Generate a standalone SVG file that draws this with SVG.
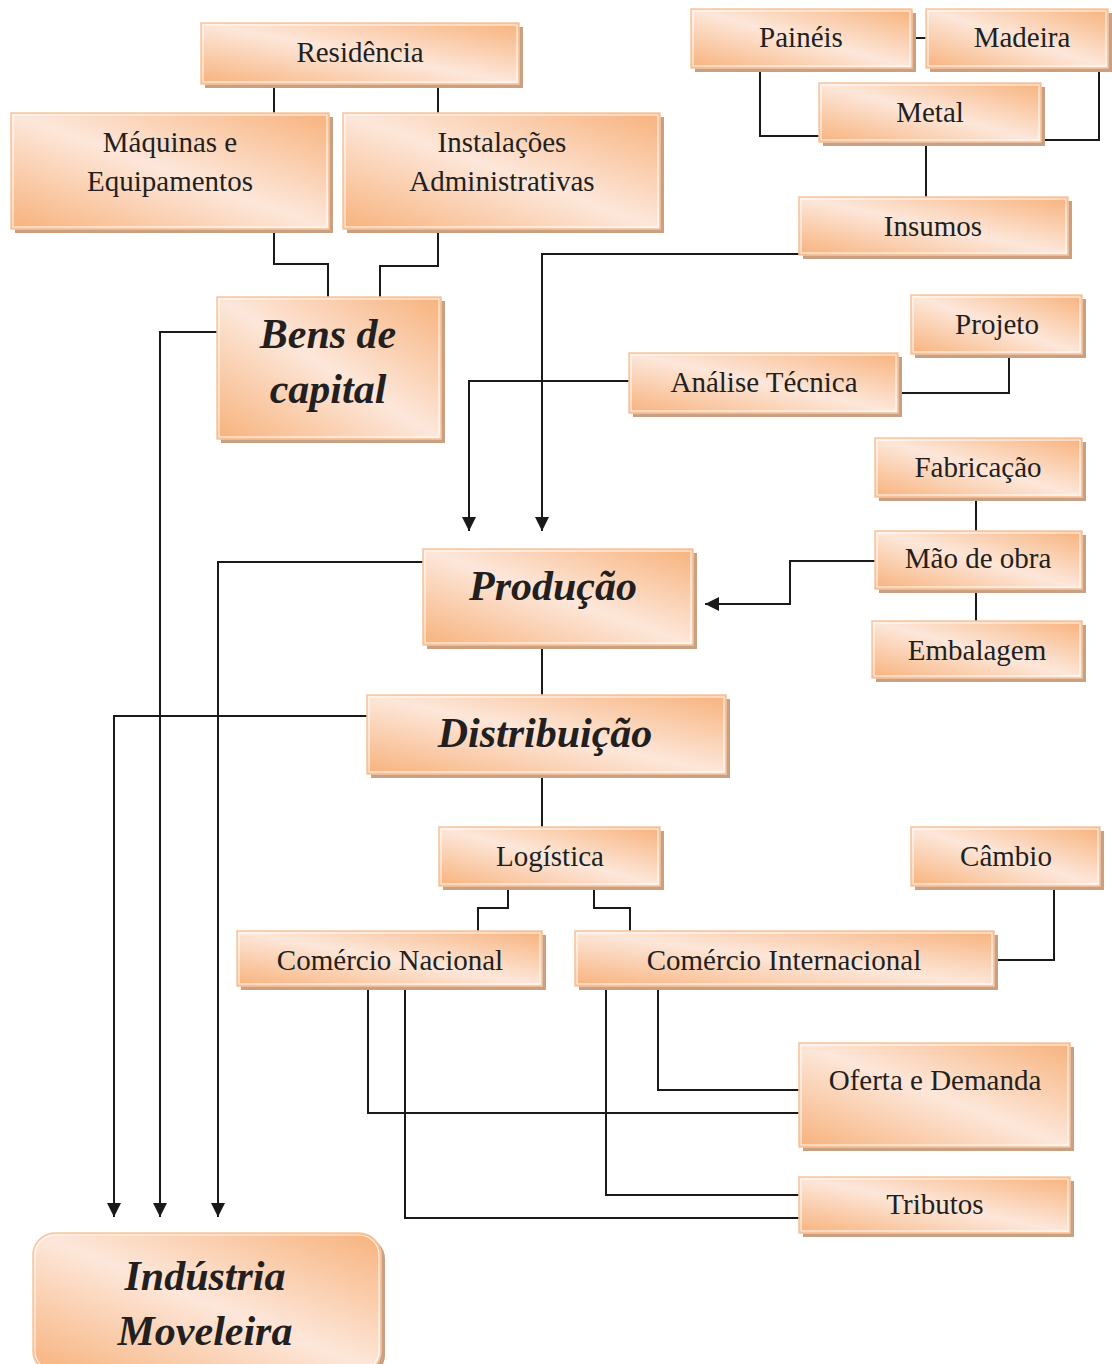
<svg xmlns="http://www.w3.org/2000/svg" width="1112" height="1364" viewBox="0 0 1112 1364">
<defs>
<linearGradient id="g" x1="0" y1="1" x2="1" y2="0">
<stop offset="0" stop-color="#f7b27c"/>
<stop offset="0.5" stop-color="#fde7da"/>
<stop offset="1" stop-color="#f7b27c"/>
</linearGradient>
<marker id="arr" markerUnits="userSpaceOnUse" markerWidth="16" markerHeight="16" refX="14" refY="7" orient="auto">
<path d="M0,0 L14,7 L0,14 z" fill="#1a1a1a"/>
</marker>
<style>
.sh{fill:#c9a082}
.bx{fill:url(#g);stroke:#f9c49c;stroke-width:1.5}
.in{fill:none;stroke:#ffffff;stroke-width:1.2;opacity:0.8}
.t{font-family:"Liberation Serif","Times New Roman",serif;font-size:29px;fill:#231f20;text-anchor:middle}
.b{font-family:"Liberation Serif","Times New Roman",serif;font-size:42px;font-weight:bold;font-style:italic;fill:#231f20;text-anchor:middle}
.c{fill:none;stroke:#1a1a1a;stroke-width:2}
.a{marker-end:url(#arr)}
</style>
</defs>
<rect width="1112" height="1364" fill="#ffffff"/>

<g id="connectors">
<path class="c" d="M274,85 V113"/>
<path class="c" d="M438,85 V113"/>
<path class="c" d="M274,231 V264 H328 V297"/>
<path class="c" d="M438,231 V266 H380 V297"/>
<path class="c a" d="M218,332 H160 V1217"/>
<path class="c" d="M912,38 H926"/>
<path class="c" d="M760,68 V136 H820"/>
<path class="c" d="M1099,68 V140 H1040"/>
<path class="c" d="M926,142 V198"/>
<path class="c a" d="M800,247 V254 H542 V531"/>
<path class="c" d="M1009,355 V393 H899"/>
<path class="c a" d="M630,381 H469 V531"/>
<path class="c" d="M976,498 V531"/>
<path class="c" d="M976,590 V621"/>
<path class="c a" d="M876,561 H790 V604 H705"/>
<path class="c a" d="M424,562 H218 V1217"/>
<path class="c" d="M542,646 V696"/>
<path class="c a" d="M368,716 H114 V1217"/>
<path class="c" d="M542,776 V828"/>
<path class="c" d="M508,887 V908 H478 V932"/>
<path class="c" d="M594,887 V908 H630 V932"/>
<path class="c" d="M1054,888 V960 H995"/>
<path class="c" d="M658,986 V1090 H800"/>
<path class="c" d="M606,986 V1195 H800"/>
<path class="c" d="M368,986 V1113 H800"/>
<path class="c" d="M405,986 V1218 H800"/>
</g>

<g id="residencia">
<rect class="sh" x="205" y="27" width="318" height="61"/>
<rect class="bx" x="201" y="23" width="318" height="61"/>
<rect class="in" x="203" y="25" width="314" height="57"/>
<text class="t" x="360" y="62">Residência</text>
</g>

<g id="maquinas">
<rect class="sh" x="15" y="117" width="318" height="116"/>
<rect class="bx" x="11" y="113" width="318" height="116"/>
<rect class="in" x="13" y="115" width="314" height="112"/>
<text class="t" x="170" y="152">Máquinas e</text>
<text class="t" x="170" y="191">Equipamentos</text>
</g>

<g id="instalacoes">
<rect class="sh" x="347" y="117" width="317" height="116"/>
<rect class="bx" x="343" y="113" width="317" height="116"/>
<rect class="in" x="345" y="115" width="313" height="112"/>
<text class="t" x="502" y="152">Instalações</text>
<text class="t" x="502" y="191">Administrativas</text>
</g>

<g id="bens">
<rect class="sh" x="221" y="301" width="224" height="142"/>
<rect class="bx" x="217" y="297" width="224" height="142"/>
<rect class="in" x="219" y="299" width="220" height="138"/>
<text class="b" x="328" y="348">Bens de</text>
<text class="b" x="328" y="403">capital</text>
</g>

<g id="paineis">
<rect class="sh" x="695" y="13" width="221" height="59"/>
<rect class="bx" x="691" y="9" width="221" height="59"/>
<rect class="in" x="693" y="11" width="217" height="55"/>
<text class="t" x="801" y="47">Painéis</text>
</g>

<g id="madeira">
<rect class="sh" x="930" y="13" width="182" height="59"/>
<rect class="bx" x="926" y="9" width="182" height="59"/>
<rect class="in" x="928" y="11" width="178" height="55"/>
<text class="t" x="1022" y="47">Madeira</text>
</g>

<g id="metal">
<rect class="sh" x="823" y="87" width="222" height="59"/>
<rect class="bx" x="819" y="83" width="222" height="59"/>
<rect class="in" x="821" y="85" width="218" height="55"/>
<text class="t" x="930" y="122">Metal</text>
</g>

<g id="insumos">
<rect class="sh" x="803" y="201" width="269" height="58"/>
<rect class="bx" x="799" y="197" width="269" height="58"/>
<rect class="in" x="801" y="199" width="265" height="54"/>
<text class="t" x="933" y="236">Insumos</text>
</g>

<g id="projeto">
<rect class="sh" x="915" y="299" width="171" height="59"/>
<rect class="bx" x="911" y="295" width="171" height="59"/>
<rect class="in" x="913" y="297" width="167" height="55"/>
<text class="t" x="997" y="334">Projeto</text>
</g>

<g id="analise">
<rect class="sh" x="633" y="357" width="269" height="60"/>
<rect class="bx" x="629" y="353" width="269" height="60"/>
<rect class="in" x="631" y="355" width="265" height="56"/>
<text class="t" x="764" y="392">Análise Técnica</text>
</g>

<g id="fabricacao">
<rect class="sh" x="879" y="442" width="207" height="59"/>
<rect class="bx" x="875" y="438" width="207" height="59"/>
<rect class="in" x="877" y="440" width="203" height="55"/>
<text class="t" x="978" y="477">Fabricação</text>
</g>

<g id="maodeobra">
<rect class="sh" x="879" y="535" width="207" height="58"/>
<rect class="bx" x="875" y="531" width="207" height="58"/>
<rect class="in" x="877" y="533" width="203" height="54"/>
<text class="t" x="978" y="568">Mão de obra</text>
</g>

<g id="embalagem">
<rect class="sh" x="876" y="625" width="210" height="57"/>
<rect class="bx" x="872" y="621" width="210" height="57"/>
<rect class="in" x="874" y="623" width="206" height="53"/>
<text class="t" x="977" y="660">Embalagem</text>
</g>

<g id="producao">
<rect class="sh" x="427" y="553" width="270" height="96"/>
<rect class="bx" x="423" y="549" width="270" height="96"/>
<rect class="in" x="425" y="551" width="266" height="92"/>
<text class="b" x="553" y="600">Produção</text>
</g>

<g id="distribuicao">
<rect class="sh" x="371" y="699" width="359" height="79"/>
<rect class="bx" x="367" y="695" width="359" height="79"/>
<rect class="in" x="369" y="697" width="355" height="75"/>
<text class="b" x="545" y="747">Distribuição</text>
</g>

<g id="logistica">
<rect class="sh" x="443" y="831" width="221" height="59"/>
<rect class="bx" x="439" y="827" width="221" height="59"/>
<rect class="in" x="441" y="829" width="217" height="55"/>
<text class="t" x="550" y="866">Logística</text>
</g>

<g id="cambio">
<rect class="sh" x="915" y="831" width="189" height="59"/>
<rect class="bx" x="911" y="827" width="189" height="59"/>
<rect class="in" x="913" y="829" width="185" height="55"/>
<text class="t" x="1006" y="866">Câmbio</text>
</g>

<g id="comercio-nacional">
<rect class="sh" x="241" y="935" width="305" height="55"/>
<rect class="bx" x="237" y="931" width="305" height="55"/>
<rect class="in" x="239" y="933" width="301" height="51"/>
<text class="t" x="390" y="970">Comércio Nacional</text>
</g>

<g id="comercio-internacional">
<rect class="sh" x="579" y="935" width="419" height="55"/>
<rect class="bx" x="575" y="931" width="419" height="55"/>
<rect class="in" x="577" y="933" width="415" height="51"/>
<text class="t" x="784" y="970">Comércio Internacional</text>
</g>

<g id="oferta">
<rect class="sh" x="803" y="1047" width="271" height="104"/>
<rect class="bx" x="799" y="1043" width="271" height="104"/>
<rect class="in" x="801" y="1045" width="267" height="100"/>
<text class="t" x="935" y="1090">Oferta e Demanda</text>
</g>

<g id="tributos">
<rect class="sh" x="803" y="1181" width="271" height="56"/>
<rect class="bx" x="799" y="1177" width="271" height="56"/>
<rect class="in" x="801" y="1179" width="267" height="52"/>
<text class="t" x="935" y="1214">Tributos</text>
</g>

<g id="industria">
<rect class="sh" x="37" y="1237" width="348" height="140" rx="22"/>
<rect class="bx" x="33" y="1233" width="348" height="140" rx="22"/>
<rect class="in" x="35" y="1235" width="344" height="136" rx="20"/>
<text class="b" x="205" y="1290">Indústria</text>
<text class="b" x="205" y="1345">Moveleira</text>
</g>
</svg>
